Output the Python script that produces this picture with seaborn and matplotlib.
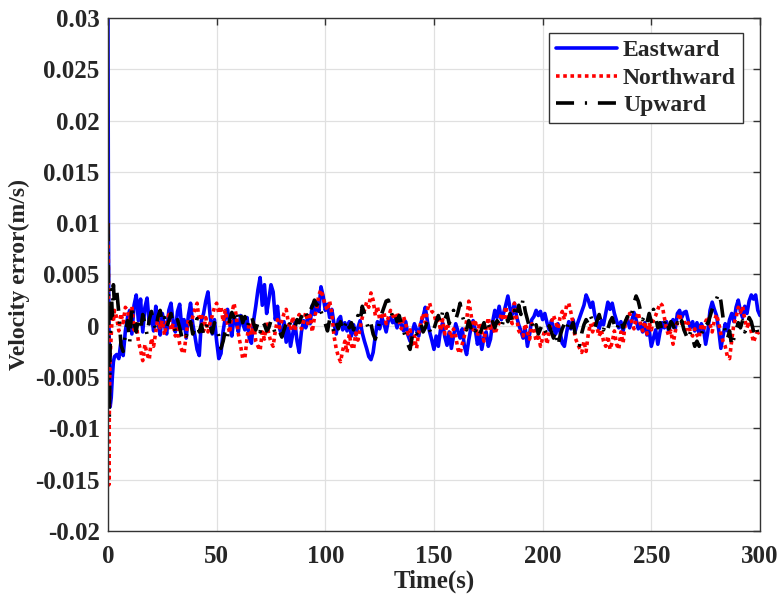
import numpy as np
import pandas as pd
import matplotlib
matplotlib.use("Agg")
import matplotlib.pyplot as plt
import seaborn as sns
from matplotlib.ticker import FuncFormatter

# ---- data (velocity errors in mm/s, converted to m/s below) ----
t_early = [0, 0.2, 0.4, 0.6, 0.8, 1.0, 1.5, 2.0, 2.5, 3.0]
t_main = list(range(4, 301))

east_early = [30, 10, 1.0, -3.0, -6.0, -7.9, -7.0, -5.0, -3.5, -3.0]
east_main = [
    -2.8, -3.2, -1.5, -2.9, -0.5, 0.8,
    1.5, -0.8, 2.0, 3.0, 0.5, 2.6, -0.6, 1.8, 2.7, 0.2,
    1.0, -0.5, 1.9, 0.4, -0.9, 1.2, 0.0, -0.8, 1.5, 2.2,
    0.3, -0.6, 1.4, 2.1, -0.3, 0.6, -1.2, 1.0, 2.2, 0.2,
    -1.0, -2.3, -2.9, 0.5, 1.2, 2.4, 3.3, 1.0, -0.8, 0.6,
    -1.5, -3.2, -2.7, -0.5, 0.8, 1.6, 0.2, -1.0, 0.9, 0.3,
    -0.6, 1.0, 0.2, -0.4, 0.8, -1.2, -1.7, 0.5, 1.9, 3.5,
    4.7, 2.0, 4.0, 1.2, 2.5, 4.0, 3.3, 0.6, 1.9, -0.3,
    -1.0, 0.4, -1.6, -0.2, -2.0, -0.8, 0.3, -1.5, -2.6, -0.6,
    0.5, -0.2, 1.0, 0.2, 2.0, 1.1, 2.3, 1.4, 3.8, 2.9,
    1.5, 2.1, 0.8, 1.6, 0.2, -0.8, 0.6, 0.9, -0.4, 0.3,
    -0.5, 0.4, -1.0, 0.1, -0.9, -0.2, 0.5, -0.7, -1.5, -2.2,
    -3.0, -3.3, -2.6, -1.0, 0.4, -0.3, 0.8, 0.2, -0.6, 0.5,
    0.8, 0.3, 0.6, -0.2, 0.7, 0.1, -0.5, 0.4, -0.9, -1.5,
    -0.6, 0.2, -0.4, -1.0, 0.3, 0.9, 1.8, 0.4, -0.6, -1.4,
    -2.3, -1.0, -2.0, -0.4, 0.3, -1.1, -1.9, -0.6, -2.2, -1.0,
    0.2, -0.5, -1.2, -0.3, -2.0, -2.8, -1.4, -0.2, 0.5, -0.4,
    -1.8, -0.9, -2.3, -1.1, -0.6, -2.0, -1.3, 0.4, 1.5, 0.8,
    1.9, 0.6, 1.2, 2.0, 2.9, 1.7, 1.1, 2.2, 0.9, 0.1,
    -0.5, -1.2, -0.3, -2.0, -0.8, 0.6, 0.9, 1.5, 1.0, 1.4,
    0.6, 1.2, 0.3, -0.4, 0.5, -0.2, -0.8, 0.2, -0.6, -1.7,
    -2.0, -0.7, 0.4, -0.3, 0.6, -0.5, 0.2, 0.8, 1.4, 2.0,
    3.0, 2.5, 1.8, 2.3, 1.0, 0.4, -0.3, 0.5, 0.1, 1.2,
    2.3, 1.6, 2.2, 1.2, 0.5, -0.2, 0.4, -0.5, 0.3, 0.7,
    -0.2, 0.5, 1.3, 0.6, -0.3, 0.2, -0.6, 0.3, -0.9, -0.4,
    -2.0, -1.2, -0.4, -1.8, -0.6, 0.3, -0.2, 0.4, -0.5, 0.2,
    0.6, -0.3, 1.2, 1.5, 0.8, 1.3, 1.4, 0.5, -0.2, 0.4,
    -0.5, 0.3, -0.8, 0.2, -0.3, -1.8, -0.6, 1.5, 2.3, 1.6,
    1.0, -0.4, -2.2, -1.0, 0.2, -0.5, 0.6, 1.2, 0.4, 1.8,
    2.5, 1.4, 0.8, 1.9, 1.2, 2.4, 3.0, 2.6, 3.0, 1.5,
    1.0,
]

north_early = [10, 5.0, -15.5, -9.0, -5.0, -3.0, -1.0, 1.2, 0.5, 1.5]
north_main = [
    0.8, -0.5, 1.2, 0.3, 1.8, 1.5,
    0.6, 1.9, -0.4, 0.2, -1.5, -2.4, -3.4, -1.8, -2.8, -3.3,
    -1.2, -2.0, -0.6, 0.8, -0.2, 0.5, -0.9, 0.3, 1.1, -0.4,
    0.2, -1.0, -0.3, -1.8, -2.4, -2.7, -0.8, 0.6, -0.2, 0.9,
    1.6, 2.2, 0.5, 1.2, -0.5, 0.8, -0.6, 0.3, 1.0, 1.8,
    2.2, 1.2, 1.9, 0.4, 1.5, 0.2, -0.7, 1.2, 2.2, 1.0,
    -0.8, -1.9, -3.2, -3.1, -1.2, 0.3, -0.9, 0.5, -1.5, -2.0,
    -2.4, -0.6, -1.3, 0.4, -0.8, -1.6, -2.0, -0.5, 0.6, -0.2,
    0.5, 1.2, 1.6, 0.3, -0.4, 0.9, -0.5, 0.6, 1.1, -0.3,
    0.4, 1.3, 0.2, 1.0, -0.6, 0.8, 1.6, 3.0, 3.5, 2.8,
    2.0, 1.5, 2.4, 1.2, -1.0, -2.2, -3.0, -3.5, -2.4, -1.5,
    -2.6, -0.8, -1.9, -2.3, -0.7, -1.4, -0.2, 0.8, 1.5, 2.3,
    1.8, 3.2, 2.5, 1.0, 1.9, 0.6, 0.9, 1.3, 0.2, 0.8,
    1.5, 1.0, 0.6, 1.3, 0.4, -0.3, 0.9, 0.2, -0.8, -0.4,
    -1.8, -1.0, -2.2, -0.6, 0.4, 1.2, 0.3, 1.6, 2.2, 1.4,
    1.2, 0.3, 0.9, -0.5, 0.6, -0.8, 0.2, -0.4, -1.2, -0.3,
    -1.0, -2.3, -2.7, -1.8, -1.0, 0.5, 2.4, 1.2, -0.4, 0.6,
    -1.0, 0.3, -0.6, -1.5, -0.2, 0.8, -0.5, 0.4, -0.8, -0.2,
    0.3, 1.2, 0.5, 1.9, 0.6, 1.0, 0.2, 2.2, 0.8, -0.5,
    -0.8, -1.0, 0.2, -0.6, -1.3, 0.2, -0.4, -1.5, -0.8, -2.0,
    -1.2, -0.4, -1.8, -0.6, 0.3, 1.0, 0.4, -0.3, 0.8, 1.4,
    0.6, 2.0, 2.2, 1.3, 0.2, -1.2, -1.7, -2.2, -2.6, -1.5,
    -2.5, -0.8, 0.2, -0.6, 0.5, -0.2, -1.0, -0.4, -1.5, -2.0,
    -1.0, -2.3, -1.6, -0.5, -1.8, -2.3, -0.6, -1.7, 0.3, 0.8,
    1.2, 0.4, -0.3, 0.6, 1.3, 0.2, -0.5, 0.4, -0.8, 0.3,
    -0.4, 0.6, 1.0, 1.6, 2.2, 2.0, 0.8, -0.3, -1.0, -0.5,
    -1.8, -0.6, 0.5, 1.2, 0.2, 0.6, -0.4, 0.3, -0.7, -1.0,
    -0.3, -0.9, -1.2, 0.2, -0.5, 0.4, 0.9, 0.1, -0.6, 0.5,
    1.1, 0.3, -0.8, -1.5, -2.0, -3.0, -3.2, -1.4, 0.2, 0.8,
    1.8, 1.3, 1.9, 0.6, -0.2, 0.4, -0.6, -1.6, -1.0, -0.4,
    -0.8,
]

up_early = [10, 4.0, -5.0, -9.0, -6.0, -2.0, 3.5, 1.0, 4.0, 2.0]
up_main = [
    3.5, 1.2, -1.9, -2.5, -0.8, 0.5,
    -1.6, 2.0, 0.3, -0.6, 0.8, -0.5, 1.1, 0.2, -0.9, 0.6,
    1.4, 0.4, -0.4, 0.9, 1.5, 0.3, 0.8, -0.2, 0.5, 1.2,
    0.2, -0.5, 0.6, -0.2, -1.1, -0.6, -1.0, -0.3, 0.4, -0.8,
    -0.2, 0.7, -0.6, 0.1, -0.9, -0.3, 0.5, 0.0, -0.7, 0.3,
    -0.2, -1.0, -2.2, -1.5, -0.4, -1.1, 0.6, 1.3, 0.8, 1.5,
    0.6, 1.2, 0.3, 0.9, -0.2, 0.5, 1.0, 0.2, -0.4, 0.3,
    -0.6, 0.4, 0.1, -0.5, -0.2, 0.5, -0.1, -0.8, -1.0, -0.6,
    -1.1, -0.4, 0.2, -0.3, 0.4, 0.1, -0.2, 0.6, 0.3, 0.9,
    0.5, 1.2, 0.8, 1.5, 1.9, 2.5, 2.0, 2.3, 1.4, 0.8,
    0.2, -0.5, 0.6, 0.1, -0.6, 0.3, -0.3, 0.4, -0.5, 0.0,
    0.6, -0.2, 0.3, -0.4, 0.5, 1.0, 0.4, 1.9, 1.2, 0.3,
    -0.4, 0.2, -0.8, -1.3, -0.6, 0.4, 1.2, 1.8, 2.4, 2.5,
    1.6, 0.8, 1.2, 0.4, 1.0, 0.2, -0.5, -1.2, -1.8, -2.3,
    -1.0, -0.4, -0.8, -0.3, 0.2, -0.6, -0.2, 0.5, -0.4, -0.9,
    -0.3, 0.4, 1.0, 0.3, 1.4, 0.6, 1.2, 0.2, 0.8, 1.5,
    0.6, 1.3, 2.2, 1.0, 0.3, -0.4, 0.5, -0.2, 0.2, -0.5,
    -0.1, -0.8, -0.3, 0.3, -0.6, 0.1, -0.4, 0.4, -0.2, 0.5,
    0.2, -0.3, 0.6, 1.0, 0.4, 1.2, 0.5, 1.5, 0.8, 2.0,
    1.1, 2.7, 1.4, 0.6, -0.2, 0.3, -0.5, 0.1, -0.8, -0.3,
    0.2, -0.4, -0.9, 0.0, -0.6, -1.2, -0.5, -2.0, -1.0, -0.3,
    0.2, -0.4, 0.5, -0.2, 0.3, -0.8, -1.3, -1.9, -0.7, 0.1,
    0.6, 0.2, 1.0, 0.4, -0.2, 0.5, 1.1, 0.3, -0.4, 0.2,
    -0.3, 0.4, 0.8, 0.1, -0.5, 0.3, 0.6, -0.2, 0.4, 0.9,
    0.5, 1.2, 2.2, 2.9, 2.4, 1.5, 0.6, 1.0, 0.3, 1.2,
    0.4, 1.6, 0.8, -0.2, 0.3, -0.5, 0.2, 0.7, -0.3, 0.4,
    0.1, -0.6, 0.3, -0.2, 0.5, -0.4, -0.9, -1.4, -0.6, -1.2,
    -2.0, -1.5, -2.0, -0.8, -0.3, 0.4, 0.2, 0.9, 1.6, 2.2,
    2.6, 3.2, 2.4, 0.8, -0.6, -1.3, -0.5, -2.0, -1.2, -0.4,
    0.3, -0.2, 0.5, -0.6, -0.3, 0.8, 0.4, -0.5, 0.1, -0.7,
    -0.3,
]

series_names = ["Eastward", "Northward", "Upward"]
x_ticks = [0, 50, 100, 150, 200, 250, 300]
y_ticks = [-0.02, -0.015, -0.01, -0.005, 0, 0.005, 0.01, 0.015, 0.02, 0.025, 0.03]

time = np.array(t_early + t_main, dtype=float)
vals = {
    "Eastward": np.array(east_early + east_main) / 1000.0,
    "Northward": np.array(north_early + north_main) / 1000.0,
    "Upward": np.array(up_early + up_main) / 1000.0,
}

# ---- styling ----
sns.set_style("white")
plt.rcParams["font.family"] = ["Liberation Serif", "DejaVu Serif"]
plt.rcParams["font.weight"] = "bold"

styles = {
    "Eastward": dict(color="#0000ff", linestyle="-", linewidth=2.6),
    "Northward": dict(color="#ff0000", linestyle=(0, (1, 1)), linewidth=2.6),
    "Upward": dict(color="#000000", linestyle=(0, (5, 3, 0.6, 3)), linewidth=2.6),
}

fig = plt.figure(figsize=(7.79, 5.96), dpi=100)
ax = fig.add_axes([0.1386, 0.109, 0.837, 0.861])

for name in series_names:
    df = pd.DataFrame({"Time": time, "Value": vals[name]})
    sns.lineplot(data=df, x="Time", y="Value", ax=ax, label=name,
                 estimator=None, sort=False, **styles[name])

ax.set_xlim(0, 300)
ax.set_ylim(-0.02, 0.03)
ax.set_xticks(x_ticks)
ax.set_yticks(y_ticks)

def fmt(v, pos):
    v = round(v, 4)
    if abs(v) < 1e-12:
        return "0"
    return f"{v:g}"

ax.yaxis.set_major_formatter(FuncFormatter(fmt))
ax.grid(True, color="#e0e0e0", linewidth=0.9)
ax.set_axisbelow(True)

ax.tick_params(direction="in", length=5, width=1, top=True, right=True,
               labelsize=18, pad=6, color="#333333")
ax.tick_params(axis="x", pad=10)
for lab in ax.get_xticklabels() + ax.get_yticklabels():
    lab.set_fontweight("bold")
for sp in ax.spines.values():
    sp.set_color("#333333")
    sp.set_linewidth(1.0)

ax.set_xlabel("Time(s)", fontsize=18, fontweight="bold", labelpad=1)
ax.set_ylabel("Velocity error(m/s)", fontsize=17, fontweight="bold", labelpad=4)

leg = ax.legend(loc="upper right", bbox_to_anchor=(0.974, 0.971),
                frameon=True, fancybox=False, handlelength=2.6,
                borderpad=0.3, labelspacing=0.25, handletextpad=0.25,
                borderaxespad=0.0,
                prop={"weight": "bold", "size": 17})
leg.get_frame().set_edgecolor("#333333")
leg.get_frame().set_linewidth(1.0)
leg.get_frame().set_alpha(1.0)

fig.savefig("out.png", dpi=100)
